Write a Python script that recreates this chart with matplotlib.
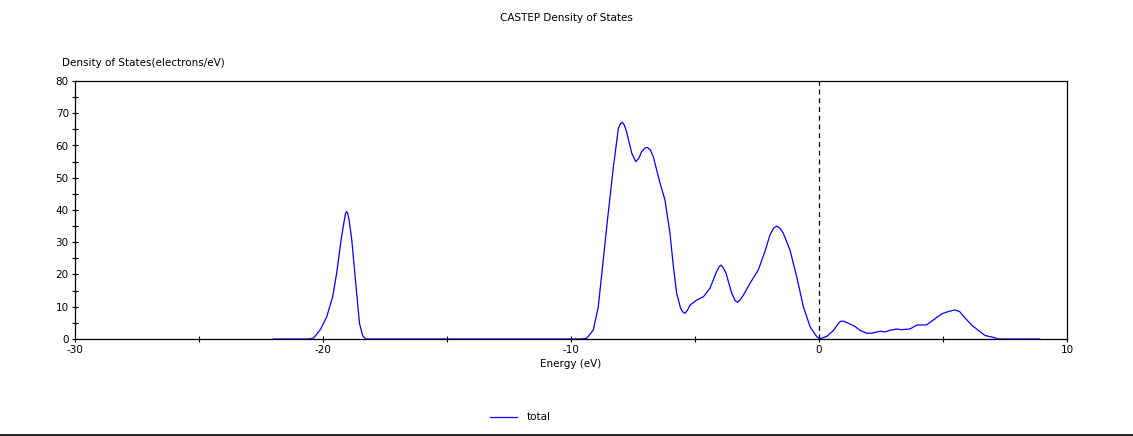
import matplotlib
matplotlib.use("Agg")
import matplotlib.pyplot as plt
from matplotlib.lines import Line2D
from matplotlib.ticker import MultipleLocator

energy = [-22.0, -20.6, -20.39, -20.1, -19.85, -19.61, -19.45, -19.27, -19.15, -19.09, -19.05,
          -19.0, -18.95, -18.84, -18.67, -18.53, -18.4, -18.27, -15.0, -12.0, -9.6, -9.37,
          -9.10, -8.90, -8.70, -8.50, -8.29, -8.09, -8.00, -7.93, -7.85, -7.76, -7.55, -7.39,
          -7.27, -7.15, -7.02, -6.92, -6.80, -6.68, -6.41, -6.21, -6.01, -5.87, -5.74, -5.58,
          -5.48, -5.40, -5.30, -5.20, -4.93, -4.66, -4.40, -4.13, -4.02, -3.95, -3.87, -3.75,
          -3.52, -3.38, -3.29, -3.17, -3.05, -2.78, -2.45, -2.18, -1.98, -1.83, -1.71, -1.58,
          -1.44, -1.17, -0.90, -0.63, -0.36, -0.09, 0.04, 0.31, 0.58, 0.75, 0.87, 1.0,
          1.18, 1.45, 1.65, 1.92, 2.12, 2.46, 2.66, 2.86, 3.13, 3.33, 3.67, 3.94,
          4.34, 4.61, 4.95, 5.21, 5.48, 5.67, 5.89, 6.16, 6.42, 6.69, 7.03, 7.24, 8.9]
dos = [0.0, 0.0, 0.2, 3.0, 6.9, 13.1, 20.4, 30.7, 36.5, 38.9, 39.5,
       38.9, 37.0, 30.7, 16.5, 4.9, 1.0, 0.0, 0.0, 0.0, 0.0, 0.2,
       2.8, 10.0, 24.5, 39.0, 53.4, 65.3, 66.8, 67.2, 66.3, 64.3, 57.6, 55.0,
       56.0, 58.1, 59.2, 59.4, 58.6, 56.5, 48.3, 43.1, 32.8, 22.4, 14.2, 9.5,
       8.3, 8.0, 9.0, 10.5, 12.1, 13.1, 15.7, 20.9, 22.5, 22.9, 22.2, 20.4,
       14.2, 11.9, 11.4, 12.2, 13.6, 17.3, 21.4, 27.1, 32.2, 34.4, 35.0, 34.4,
       32.8, 27.6, 19.3, 10.0, 3.8, 0.7, 0.1, 0.8, 2.6, 4.5, 5.5, 5.5,
       4.9, 3.9, 2.7, 1.8, 1.8, 2.4, 2.2, 2.7, 3.1, 2.9, 3.1, 4.3,
       4.4, 5.9, 7.8, 8.5, 9.0, 8.5, 6.5, 4.3, 2.7, 1.1, 0.5, 0.0, 0.0]

x_ticks = [-30, -20, -10, 0, 10]
y_ticks = [0, 10, 20, 30, 40, 50, 60, 70, 80]

plt.rcParams['font.family'] = ['DejaVu Sans']
fig = plt.figure(figsize=(11.33, 4.36), dpi=100)
ax = fig.add_axes([75/1133, 1 - 339/436, (1067-75)/1133, (339-81)/436])

ax.plot(energy, dos, color='#0000ff', lw=0.9, label='total')
ax.axvline(0, color='black', lw=0.9, ls=(0, (4, 3)))

ax.set_xlim(-30, 10)
ax.set_ylim(0, 80)
ax.set_xticks(x_ticks)
ax.set_xticklabels([str(t) for t in x_ticks])
ax.xaxis.set_minor_locator(MultipleLocator(5))
ax.set_yticks(y_ticks)
ax.set_yticklabels([str(t) for t in y_ticks])
ax.yaxis.set_minor_locator(MultipleLocator(5))
ax.tick_params(which='both', direction='inout', length=5, width=0.8, labelsize=7.5,
               top=False, right=False, pad=2)
for s in ax.spines.values():
    s.set_linewidth(0.9)

ax.set_xlabel('Energy (eV)', fontsize=7.5, labelpad=3)
fig.text(62/1133, 1 - 63/436, 'Density of States(electrons/eV)', fontsize=7.5,
         ha='left', va='center')
fig.text(0.5, 1 - 18/436, 'CASTEP Density of States', fontsize=7.5,
         ha='center', va='center')

fig.add_artist(Line2D([490/1133, 517/1133], [1 - 417/436, 1 - 417/436],
                      color='#0000ff', lw=0.9))
fig.text(527/1133, 1 - 417/436, 'total', fontsize=7.5, ha='left', va='center')
fig.add_artist(Line2D([0, 1], [0.8/436, 0.8/436], color='black', lw=1.2))

fig.savefig('out.png', dpi=100)
